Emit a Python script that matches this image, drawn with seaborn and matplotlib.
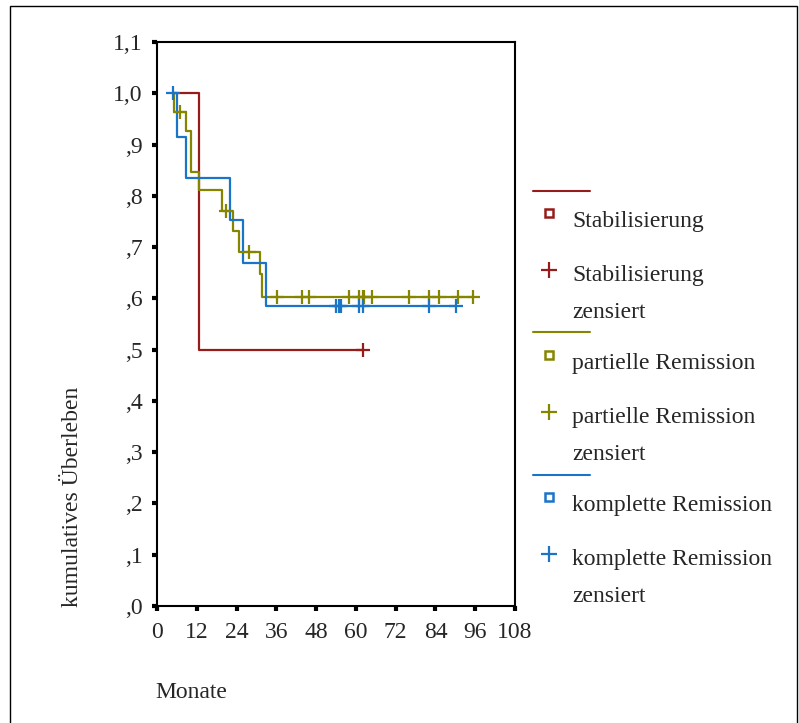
import matplotlib
matplotlib.use("Agg")
import matplotlib.pyplot as plt
from matplotlib.lines import Line2D
from matplotlib.patches import Rectangle
import seaborn as sns
import pandas as pd

# ---- data ----
groups = ["Stabilisierung", "partielle Remission", "komplette Remission"]
colors = ["#961c1c", "#858500", "#1a74c8"]

stab_time = [4.8, 12.7, 62.1]
stab_surv = [1.0, 0.5, 0.5]
stab_cens_time = [62.1]
stab_cens_surv = [0.5]

part_time = [4.8, 5.2, 8.7, 10.2, 12.8, 19.7, 22.8, 24.7, 31.1, 31.7, 95.2]
part_surv = [1.0, 0.963, 0.926, 0.847, 0.811, 0.770, 0.731, 0.691, 0.647, 0.603, 0.603]
part_cens_time = [6.9, 20.9, 27.8, 36.1, 43.8, 45.8, 57.8, 60.9, 62.0, 62.3,
                  64.8, 76.1, 82.0, 85.2, 90.8, 95.2]
part_cens_surv = [0.963, 0.770, 0.691, 0.603, 0.603, 0.603, 0.603, 0.603, 0.603,
                  0.603, 0.603, 0.603, 0.603, 0.603, 0.603, 0.603]

komp_time = [4.8, 5.9, 8.7, 22.1, 26.0, 33.0, 90.2]
komp_surv = [1.0, 0.915, 0.835, 0.752, 0.668, 0.585, 0.585]
komp_cens_time = [4.9, 54.0, 54.8, 55.5, 60.9, 62.1, 82.0, 90.2]
komp_cens_surv = [1.0, 0.585, 0.585, 0.585, 0.585, 0.585, 0.585, 0.585]

x_ticks = [0, 12, 24, 36, 48, 60, 72, 84, 96, 108]
y_ticks = [0.0, 0.1, 0.2, 0.3, 0.4, 0.5, 0.6, 0.7, 0.8, 0.9, 1.0, 1.1]
y_ticklabels = [",0", ",1", ",2", ",3", ",4", ",5", ",6", ",7", ",8", ",9", "1,0", "1,1"]

curves = pd.concat([
    pd.DataFrame({"Monate": stab_time, "surv": stab_surv, "Gruppe": groups[0]}),
    pd.DataFrame({"Monate": part_time, "surv": part_surv, "Gruppe": groups[1]}),
    pd.DataFrame({"Monate": komp_time, "surv": komp_surv, "Gruppe": groups[2]}),
], ignore_index=True)
cens = pd.concat([
    pd.DataFrame({"Monate": stab_cens_time, "surv": stab_cens_surv, "Gruppe": groups[0]}),
    pd.DataFrame({"Monate": part_cens_time, "surv": part_cens_surv, "Gruppe": groups[1]}),
    pd.DataFrame({"Monate": komp_cens_time, "surv": komp_cens_surv, "Gruppe": groups[2]}),
], ignore_index=True)

sns.set_style("white")
plt.rcParams["font.family"] = ["Liberation Serif", "DejaVu Serif"]
FS = 17

W, H = 799, 723
fig = plt.figure(figsize=(W / 100, H / 100), dpi=100)
ax = fig.add_axes([157 / W, 1 - 606 / H, (515 - 157) / W, (606 - 42) / H])

for g, c in zip(groups, colors):
    sub = curves[curves["Gruppe"] == g]
    sns.lineplot(data=sub, x="Monate", y="surv", estimator=None, sort=False,
                 drawstyle="steps-post", color=c, linewidth=1.6, ax=ax,
                 legend=False)
    subc = cens[cens["Gruppe"] == g]
    sns.scatterplot(data=subc, x="Monate", y="surv", marker="+", s=90,
                    color=c, linewidth=1.6, ax=ax, legend=False, zorder=3)

ax.set_xlim(0, 108)
ax.set_ylim(0, 1.1)
ax.set_xticks(x_ticks)
ax.set_xticklabels([str(t) for t in x_ticks], fontsize=FS)
ax.set_yticks(y_ticks)
ax.set_yticklabels(y_ticklabels, fontsize=FS)
ax.set_xlabel("")
ax.set_ylabel("")
for sp in ax.spines.values():
    sp.set_visible(True)
    sp.set_color("black")
    sp.set_linewidth(1.5)
ax.tick_params(axis="both", which="both", direction="out", length=3.5,
               width=3, color="black", left=True, bottom=True)
ax.tick_params(axis="y", pad=7)
ax.tick_params(axis="x", pad=8)

# axis titles
fig.text(72 / W, 1 - 607 / H, "kumulatives Überleben", rotation=90,
         ha="center", va="bottom", fontsize=FS)
fig.text(155 / W, 1 - 698 / H, "Monate", ha="left", va="baseline", fontsize=FS)

# legend (manual, SPSS style)
lx0, lx1 = 533 / W, 590 / W
mx = 549 / W
tx = 572 / W
bases = [226.5, 368.5, 510.5]
for g, c, b in zip(groups, colors, bases):
    fig.add_artist(Line2D([lx0, lx1], [1 - (b - 36) / H] * 2, color=c,
                          linewidth=1.5, transform=fig.transFigure))
    fig.add_artist(Line2D([mx], [1 - (b - 14) / H], marker="s", markersize=6,
                          markerfacecolor="white", markeredgecolor=c,
                          markeredgewidth=1.8, linestyle="none",
                          transform=fig.transFigure))
    fig.text(tx, 1 - b / H, g, ha="left", va="baseline", fontsize=FS)
    fig.add_artist(Line2D([mx], [1 - (b + 43) / H], marker="+", markersize=11,
                          markeredgecolor=c, markeredgewidth=1.6,
                          linestyle="none", transform=fig.transFigure))
    fig.text(tx, 1 - (b + 55) / H, g, ha="left", va="baseline", fontsize=FS)
    fig.text(tx, 1 - (b + 91) / H, "zensiert", ha="left", va="baseline",
             fontsize=FS)

# outer frame
fig.add_artist(Rectangle((10 / W, -0.02), (797 - 10) / W, 1 - 6 / H + 0.02,
                         fill=False, edgecolor="black", linewidth=1.0,
                         transform=fig.transFigure))

fig.savefig("out.png", dpi=100)
